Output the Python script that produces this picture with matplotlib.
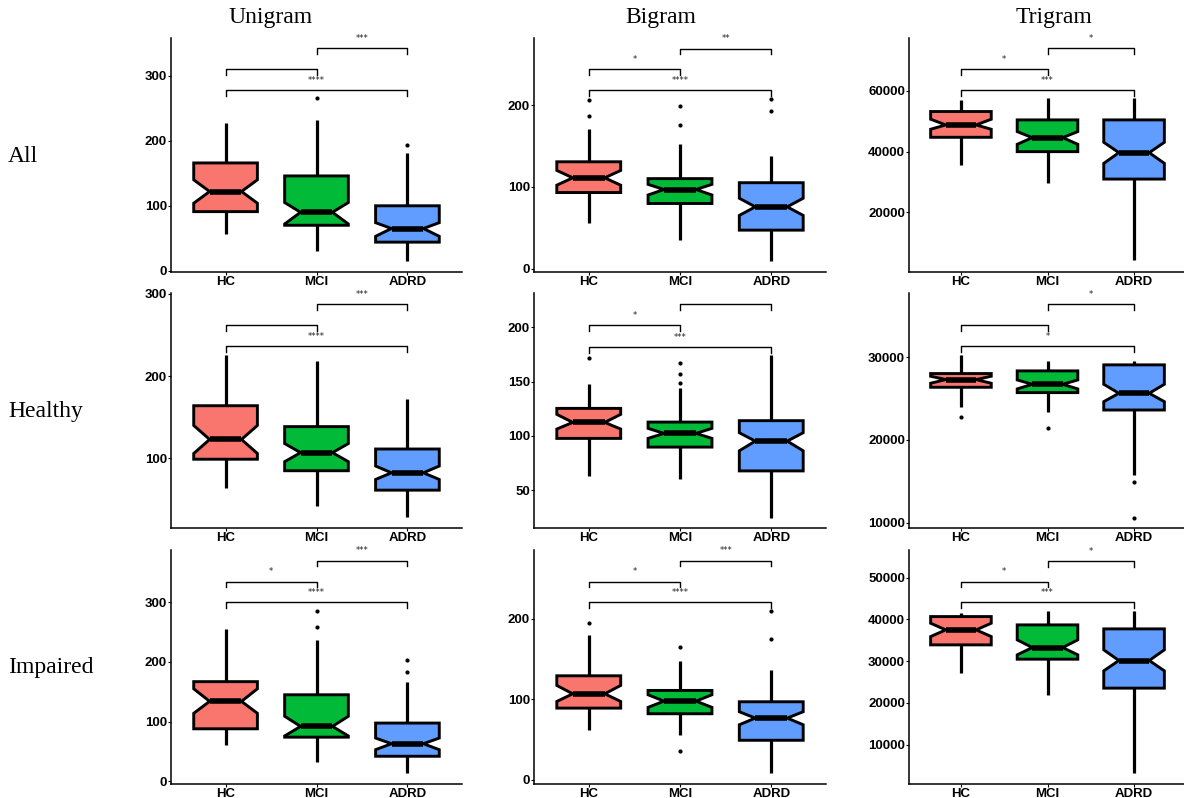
import numpy as np
import matplotlib.pyplot as plt

# groups and panel labels
groups = ['HC', 'MCI', 'ADRD']
colors = ['#F8766D', '#00BA38', '#619CFF']
col_titles = ['Unigram', 'Bigram', 'Trigram']
row_titles = ['All', 'Healthy', 'Impaired']

# box statistics, one row per panel
# order: Uni-All, Bi-All, Tri-All, Uni-Healthy, Bi-Healthy, Tri-Healthy, Uni-Impaired, Bi-Impaired, Tri-Impaired
med = [[122, 90, 65], [111, 96.7, 75.5], [48791, 44615, 39670],
       [123, 107, 82.5], [112.4, 102.3, 95.2], [27293, 26727, 25636],
       [134, 92, 63], [106.8, 97.7, 76.6], [37490, 33267, 30159]]
q1 = [[91, 70, 44], [93, 79.6, 47], [44725, 40000, 30989],
      [99, 85, 61.4], [97.7, 89.7, 67.8], [26364, 25717, 23616],
      [88, 74, 42], [89, 82, 49], [33904, 30478, 23546]]
q3 = [[166, 146, 100], [130.6, 110, 105], [53187, 50440, 50440],
      [164, 138.6, 111.4], [125.3, 112.7, 114], [28020, 28343, 29071],
      [167, 145, 97.6], [129.2, 111, 96.9], [40677, 38685, 37729]]
whis_lo = [[56.5, 31, 15], [56, 35, 9.4], [35604, 29780, 4286],
           [64, 42, 29], [63, 60, 24.8], [23939, 23414, 15737],
           [61, 32, 14], [62, 56, 8.3], [27131, 21952, 3227]]
whis_hi = [[228, 232, 181], [170.6, 152, 138], [57033, 57582, 57582],
           [226, 218, 172], [147.5, 143.8, 174.5], [30283, 29596, 29556],
           [255, 236, 166], [180, 147.8, 136.6], [41633, 42112, 42112]]
notch_lo = [[104, 72, 53], [102, 90, 65], [47363, 42418, 36154],
            [106, 96, 74.4], [106.3, 97.7, 86.3], [26848, 26162, 24626],
            [114, 76, 53], [97.3, 89.9, 68.3], [35896, 31514, 27689]]
notch_hi = [[140, 105, 74], [120, 103, 86], [50659, 46593, 43077],
            [140, 118, 90.7], [119.8, 106.9, 102.9], [27697, 27253, 26727],
            [155, 109, 72.5], [117.2, 105.6, 84.5], [39084, 35100, 32709]]
outliers = [[[], [265.5], [194]],
            [[187, 206], [175.5, 199], [192.6, 208]],
            [[], [], []],
            [[], [], []],
            [[172], [149, 156.7, 167.4], []],
            [[22808], [21475], [14929, 10606]],
            [[], [259, 285.5], [182.4, 202.5]],
            [[194.6], [164.8, 36], [174.7, 210.4]],
            [[], [], []]]

# significance brackets: heights (HC-MCI, MCI-ADRD, HC-ADRD) and labels
bracket_y = [[310, 343, 278], [244, 269, 218], [67253, 74066, 60330],
             [262, 288, 236], [202, 221.5, 182], [33838, 36424, 31293],
             [334.6, 369.8, 300], [246.4, 272.5, 220.7], [49044, 54064, 44104]]
bracket_lab = [['', '***', '****'], ['*', '**', '****'], ['*', '*', '***'],
               ['', '***', '****'], ['*', '', '***'], ['', '*', '*'],
               ['*', '***', '****'], ['*', '***', '****'], ['*', '*', '***']]

ylims = [(-2, 358.5), (-4.2, 282), (440, 77363),
         (15.4, 301), (15.3, 231.4), (9354, 37758),
         (-4.5, 387.6), (-5.4, 285.7), (598, 56614)]
yticks = [[0, 100, 200, 300], [0, 100, 200], [20000, 40000, 60000],
          [100, 200, 300], [50, 100, 150, 200], [10000, 20000, 30000],
          [0, 100, 200, 300], [0, 100, 200], [10000, 20000, 30000, 40000, 50000]]

W, H = 1184, 798
fig = plt.figure(figsize=(W / 100, H / 100), dpi=100)

col_x = [(171, 462), (534, 826), (909, 1186)]
row_y = [(38, 272), (293, 528), (550, 784)]

for p in range(9):
    r, c = divmod(p, 3)
    x0, x1 = col_x[c]
    y0, y1 = row_y[r]
    ax = fig.add_axes([x0 / W, 1 - y1 / H, (x1 - x0) / W, (y1 - y0) / H])

    stats = []
    for g in range(3):
        stats.append(dict(med=med[p][g], q1=q1[p][g], q3=q3[p][g],
                          whislo=whis_lo[p][g], whishi=whis_hi[p][g],
                          cilo=notch_lo[p][g], cihi=notch_hi[p][g],
                          fliers=outliers[p][g], label=groups[g]))
    bp = ax.bxp(stats, positions=[0, 1, 2], widths=0.7, shownotches=True,
                patch_artist=True, showcaps=False,
                boxprops=dict(linewidth=2.1, edgecolor='black'),
                whiskerprops=dict(linewidth=2.3, color='black', solid_capstyle='butt'),
                medianprops=dict(linewidth=4.0, color='black', solid_capstyle='butt'),
                flierprops=dict(marker='o', markersize=2.0, markerfacecolor='black',
                                markeredgecolor='black', linestyle='none'))
    for box, col in zip(bp['boxes'], colors):
        box.set_facecolor(col)
        box.set_joinstyle('miter')

    # brackets
    pairs = [(0, 1), (1, 2), (0, 2)]
    span = ylims[p][1] - ylims[p][0]
    drop = span * 0.025
    for (a, b), yb, lab in zip(pairs, bracket_y[p], bracket_lab[p]):
        ax.plot([a, a, b, b], [yb - drop, yb, yb, yb - drop], color='black',
                linewidth=1.0, clip_on=False)
        if lab:
            ax.text((a + b) / 2, yb + span * 0.022, lab, ha='center', va='bottom',
                    fontsize=6, color='#222222')

    ax.set_xlim(-0.6, 2.6)
    ax.set_ylim(*ylims[p])
    ax.set_yticks(yticks[p])
    ax.set_xticks([0, 1, 2])
    ax.set_xticklabels(groups)
    for s in ['top', 'right']:
        ax.spines[s].set_visible(False)
    for s in ['left', 'bottom']:
        ax.spines[s].set_linewidth(1.1)
    ax.tick_params(axis='both', length=2.0, width=0.8, pad=0.8)
    for lbl in ax.get_xticklabels() + ax.get_yticklabels():
        lbl.set_fontfamily('Liberation Sans')
        lbl.set_fontweight('bold')
        lbl.set_fontsize(9.5)
    ax.set_facecolor('none')

title_x = [271, 661, 1054]
for t, xp in zip(col_titles, title_x):
    fig.text(xp / W, 1 - 17 / H, t, ha='center', va='center',
             fontfamily='Liberation Serif', fontsize=17)

row_yc = [156, 412, 667]
for t, yp in zip(row_titles, row_yc):
    fig.text(8 / W, 1 - yp / H, t, ha='left', va='center',
             fontfamily='Liberation Serif', fontsize=17)

fig.savefig('out.png', dpi=100)
